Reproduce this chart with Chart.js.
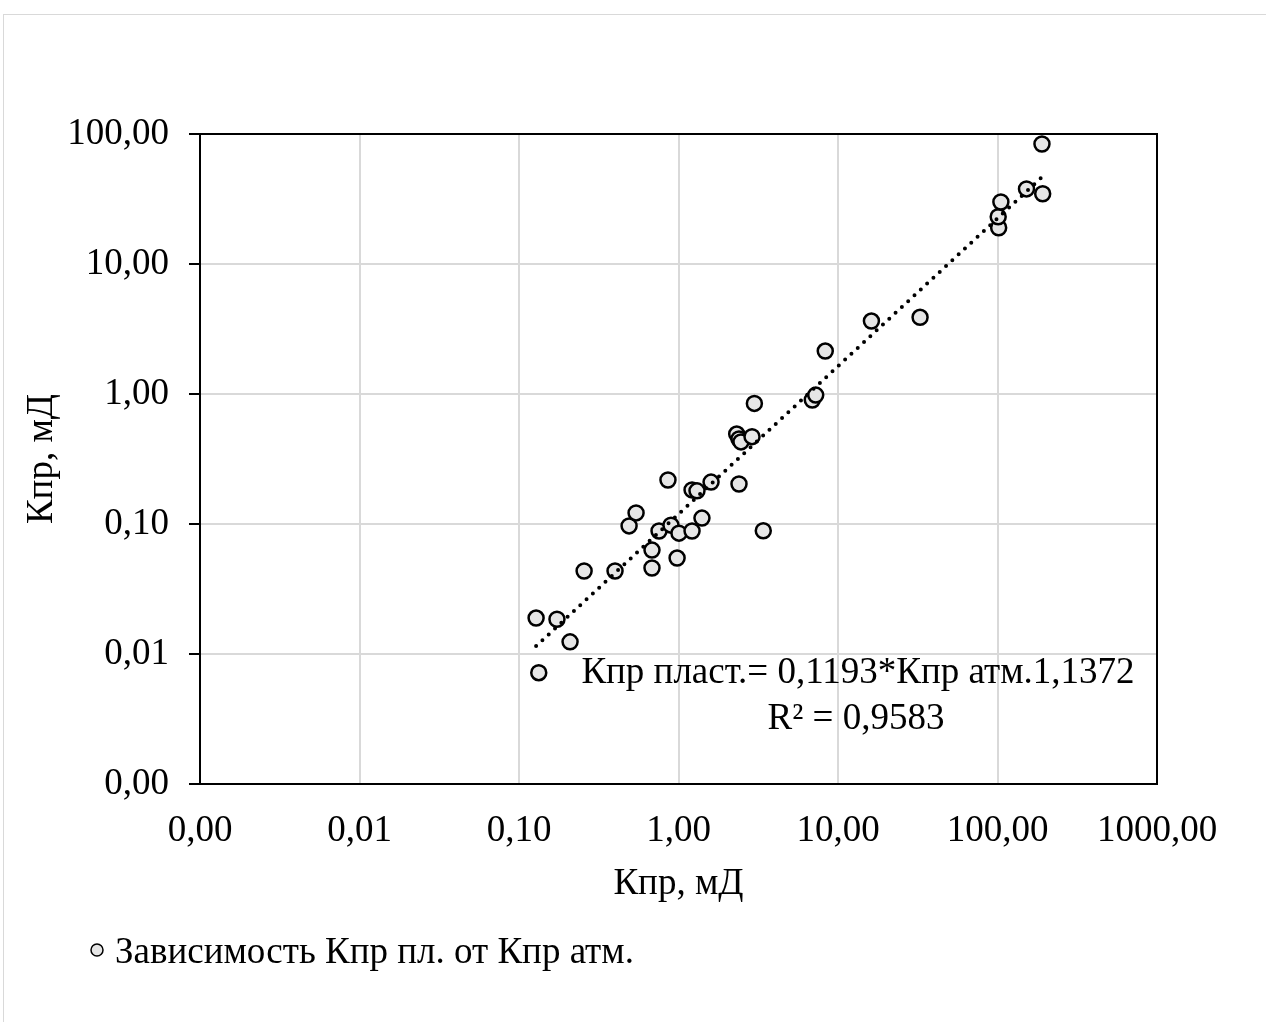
<!DOCTYPE html>
<html>
<head>
<meta charset="utf-8">
<script src="https://cdn.jsdelivr.net/npm/chart.js@4.4.1/dist/chart.umd.min.js"></script>
<style>
  html, body { margin: 0; padding: 0; background: #fff; }
  #wrap { width: 1266px; height: 1022px; }
</style>
</head>
<body>
<div id="wrap"><canvas id="kprChart" width="1266" height="1022"></canvas></div>
<script>
// Кпр атм. (x) и Кпр пласт. (y), мД
const kprAtm = [0.128, 0.173, 0.209, 0.133, 0.256, 0.400, 0.490, 0.542, 0.682, 0.682,
                0.755, 0.859, 0.897, 1.007, 0.980, 1.216, 1.216, 1.306, 1.403, 1.600,
                2.317, 2.395, 2.465, 2.890, 2.395, 2.990, 3.400, 6.90, 7.25, 8.32,
                16.2, 32.7, 101.7, 101, 105, 152, 192, 190];
const kprPlast = [0.0189, 0.0185, 0.0124, 0.00718, 0.0435, 0.0435, 0.0967, 0.1217, 0.063, 0.0459,
                  0.0883, 0.218, 0.098, 0.085, 0.0547, 0.0883, 0.183, 0.180, 0.111, 0.210,
                  0.492, 0.451, 0.428, 0.470, 0.203, 0.847, 0.0887, 0.899, 0.981, 2.14,
                  3.64, 3.89, 19.0, 23.1, 30.0, 37.8, 34.7, 83.8];

// линия тренда (концы)
const trendX = [0.128, 190];
const trendY = [0.0115, 46.6];

const xTicks = [0.001, 0.01, 0.1, 1, 10, 100, 1000];
const yTicks = [0.001, 0.01, 0.1, 1, 10, 100];

const seriesLabel = 'Зависимость Кпр пл. от Кпр атм.';
const eqLine1 = 'Кпр пласт.= 0,1193*Кпр атм.1,1372';
const eqLine2 = 'R² = 0,9583';

const FONT = "'Liberation Serif', 'Times New Roman', serif";
const FS = 37;

const fmt = v => Number(v).toFixed(2).replace('.', ',');

const extras = {
    id: 'extras',
    beforeDraw(chart) {
        const c = chart.ctx;
        c.save();
        c.strokeStyle = '#d9d9d9';
        c.lineWidth = 1;
        c.strokeRect(3.5, 14.5, 1300, 1100);
        c.restore();
    },
    afterDraw(chart) {
        const c = chart.ctx;
        const a = chart.chartArea;
        c.save();
        // рамка области построения
        c.strokeStyle = '#000';
        c.lineWidth = 2;
        c.strokeRect(a.left, a.top, a.right - a.left, a.bottom - a.top);

        // уравнение тренда
        c.fillStyle = '#000';
        c.font = FS + 'px ' + FONT;
        c.textAlign = 'center';
        c.textBaseline = 'middle';
        c.fillText(eqLine1, 858, 673);
        c.fillText(eqLine2, 856, 719);

        // легенда
        c.beginPath();
        c.arc(97, 950, 6, 0, Math.PI * 2);
        c.fillStyle = '#e6e6e6';
        c.fill();
        c.lineWidth = 1.5;
        c.strokeStyle = '#000';
        c.stroke();
        c.fillStyle = '#000';
        c.textAlign = 'left';
        c.fillText(chart.data.datasets[1].label, 115, 953);
        c.restore();
    }
};

const ctx = document.getElementById('kprChart').getContext('2d');

const kprChart = new Chart(ctx, {
    type: 'scatter',
    data: {
        datasets: [{
            label: 'trend',
            data: trendX.map((x, i) => ({x: x, y: trendY[i]})),
            showLine: true,
            borderColor: '#000',
            borderWidth: 4,
            borderDash: [0, 8.6],
            borderCapStyle: 'round',
            pointRadius: 0,
            fill: false,
            order: 0,
        }, {
            label: seriesLabel,
            data: kprAtm.map((x, i) => ({x: x, y: kprPlast[i]})),
            backgroundColor: '#e6e6e6',
            borderColor: '#000',
            borderWidth: 2.5,
            pointRadius: 7.5,
            order: 1,
        }]
    },
    options: {
        responsive: false,
        animation: false,
        layout: {
            padding: { left: 16, top: 134, right: 109, bottom: 112 }
        },
        plugins: {
            legend: { display: false },
            tooltip: { enabled: false },
        },
        scales: {
            x: {
                type: 'logarithmic',
                min: 0.001,
                max: 1000,
                afterBuildTicks: s => { s.ticks = xTicks.map(v => ({value: v})); },
                afterFit: s => { s.height = 126; },
                ticks: {
                    color: '#000',
                    padding: 25,
                    maxRotation: 0,
                    autoSkip: false,
                    font: { family: FONT, size: FS },
                    callback: v => fmt(v),
                },
                grid: {
                    color: '#d9d9d9',
                    lineWidth: 2,
                    drawTicks: false,
                },
                border: { color: '#000', width: 2 },
                title: {
                    display: true,
                    text: 'Кпр, мД',
                    color: '#000',
                    font: { family: FONT, size: FS },
                },
            },
            y: {
                type: 'logarithmic',
                min: 0.001,
                max: 100,
                afterBuildTicks: s => { s.ticks = yTicks.map(v => ({value: v})); },
                afterFit: s => { s.width = 184; },
                ticks: {
                    color: '#000',
                    padding: 20,
                    autoSkip: false,
                    font: { family: FONT, size: FS },
                    callback: v => fmt(v),
                },
                grid: {
                    color: '#d9d9d9',
                    lineWidth: 2,
                    tickColor: '#000',
                    tickLength: 11,
                },
                border: { color: '#000', width: 2 },
                title: {
                    display: true,
                    text: 'Кпр, мД',
                    color: '#000',
                    font: { family: FONT, size: FS },
                },
            }
        }
    },
    plugins: [extras]
});
</script>
</body>
</html>
